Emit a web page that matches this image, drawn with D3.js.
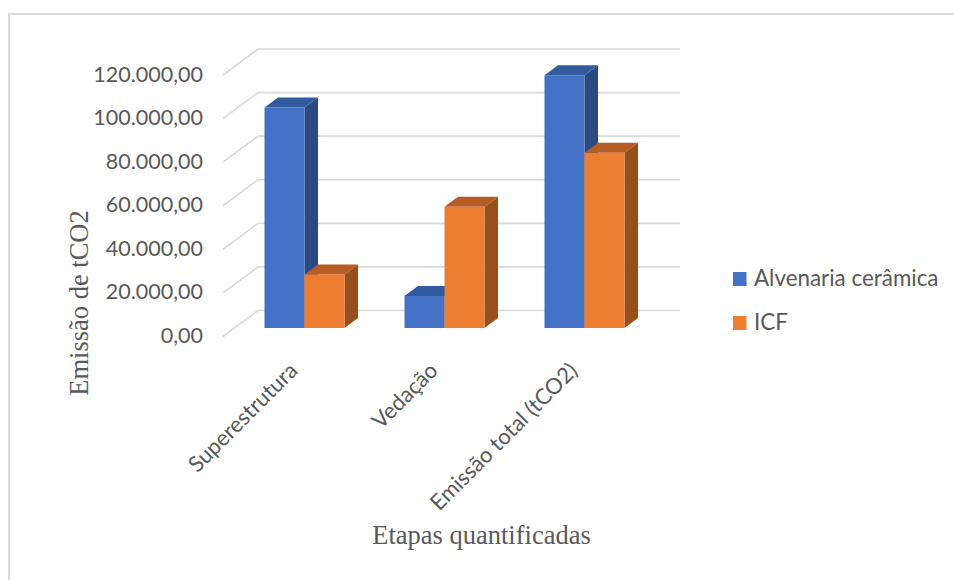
<!DOCTYPE html>
<html>
<head>
<meta charset="utf-8">
<script src="https://cdn.jsdelivr.net/npm/d3@7/dist/d3.min.js"></script>
<style>
html,body{margin:0;padding:0;background:#fff}
svg{display:block}
</style>
</head>
<body>
<svg id="chart" width="954" height="580"></svg>
<script>
const categories = ["Superestrutura", "Vedação", "Emissão total (tCO2)"];
const seriesNames = ["Alvenaria cerâmica", "ICF"];
const alvenaria = [101200, 14700, 116000];
const icf = [24600, 55600, 80400];
const yTicks = [0, 20000, 40000, 60000, 80000, 100000, 120000];
const tickLabels = ["0,00", "20.000,00", "40.000,00", "60.000,00", "80.000,00", "100.000,00", "120.000,00"];

const front = ["#4472c4", "#ed7d31"];
const top3d = ["#325a9e", "#b55d22"];
const side = ["#2b4a82", "#97501b"];

const svg = d3.select("#chart");
const sans = "Lato, 'Open Sans', sans-serif";
const serif = "'Liberation Serif', serif";

// Outer frame: only the top and left edges are visible
svg.append("path").attr("d", "M9,580V14H954").attr("fill", "none")
  .attr("stroke", "#d9d9d9").attr("stroke-width", 2);

// Back wall scale, with the floor and side wall offsets of the 3D projection
const yBack = d3.scaleLinear().domain([0, 120000]).range([310.5, 49]);
const wall = { x0: 223, x1: 258, x2: 680, dy: 26 };
const barDrop = 17.5, depthX = 13.5, depthY = 10;
const yFront = v => yBack(v) + barDrop;

const x = d3.scaleBand().domain(categories).range([234.5, 654.5]);
const barW = 40;

// Gridlines run along the side wall and then across the back wall
svg.append("g").selectAll("path").data(yTicks).join("path")
  .attr("d", d => `M${wall.x0},${yBack(d) + wall.dy}L${wall.x1},${yBack(d)}H${wall.x2}`)
  .attr("fill", "none").attr("stroke", "#d9d9d9").attr("stroke-width", 1.6);

// Value labels beside the front edge of the side wall
svg.append("g").selectAll("text").data(yTicks).join("text")
  .attr("x", 203).attr("y", d => yBack(d) + wall.dy + 6.5)
  .attr("text-anchor", "end").attr("font-family", sans).attr("font-size", 21.5)
  .attr("fill", "#595959").text((d, i) => tickLabels[i]);

// Draws one cuboid: side, top, then front face
function cuboid(g, x0, v, s) {
  const yT = yFront(v), yB = yFront(0), xR = x0 + barW;
  g.append("path").attr("fill", side[s])
    .attr("d", `M${xR},${yT}L${xR + depthX},${yT - depthY}V${yB - depthY}L${xR},${yB}Z`);
  g.append("path").attr("fill", top3d[s])
    .attr("d", `M${x0},${yT}L${x0 + depthX},${yT - depthY}H${xR + depthX}L${xR},${yT}Z`);
  g.append("rect").attr("x", x0).attr("y", yT).attr("width", barW).attr("height", yB - yT)
    .attr("fill", front[s]);
}

const bars = svg.append("g");
categories.forEach((c, i) => {
  const cx = x(c) + x.bandwidth() / 2;
  cuboid(bars, cx - barW, alvenaria[i], 0);
  cuboid(bars, cx, icf[i], 1);
});

// Rotated category labels, anchored under each group
svg.append("g").selectAll("text").data(categories).join("text")
  .attr("transform", c => `translate(${x(c) + x.bandwidth() / 2 - 5.5},${yFront(0) + 44}) rotate(-45)`)
  .attr("text-anchor", "end").attr("font-family", sans).attr("font-size", 22)
  .attr("fill", "#595959").text(c => c);

// Axis titles
svg.append("text").attr("transform", "translate(88,303) rotate(-90)")
  .attr("text-anchor", "middle").attr("font-family", serif).attr("font-size", 26.5)
  .attr("fill", "#595959").text("Emissão de tCO2");
svg.append("text").attr("x", 481.5).attr("y", 544)
  .attr("text-anchor", "middle").attr("font-family", serif).attr("font-size", 26.5)
  .attr("fill", "#595959").text("Etapas quantificadas");

// Legend
const legendY = d3.scalePoint().domain(seriesNames).range([279, 323]);
const legend = svg.append("g").selectAll("g").data(seriesNames).join("g")
  .attr("transform", d => `translate(733,${legendY(d)})`);
legend.append("rect").attr("y", -7).attr("width", 13.5).attr("height", 14)
  .attr("fill", (d, i) => front[i]);
legend.append("text").attr("x", 21).attr("y", 7).attr("font-family", sans)
  .attr("font-size", 22.4).attr("fill", "#595959").text(d => d);
</script>
</body>
</html>
